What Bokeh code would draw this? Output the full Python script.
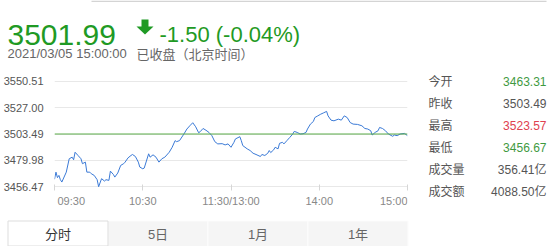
from bokeh.plotting import figure
from bokeh.layouts import column, row
from bokeh.models import Range1d, FixedTicker, PrintfTickFormatter, Span
from bokeh.core.properties import value
from bokeh.embed import file_html
from bokeh.resources import INLINE

# ---------------- data ----------------
minutes = [0, 1, 2, 3, 4, 5, 8, 10, 12, 13, 14, 16, 18, 19, 21, 22, 24, 25, 27, 29,
           30, 32, 34, 35, 37, 38, 40, 41, 43, 45, 47, 48, 50, 52, 53, 55, 57, 58, 60, 61,
           64, 65, 67, 69, 71, 73, 75, 78, 80, 82, 83, 85, 88, 90, 92, 94, 96, 98, 99, 101,
           103, 105, 107, 109, 111, 114, 116, 118, 120,
           122, 123, 126, 127, 128, 131, 133, 135, 137, 140, 141, 143, 145, 146, 147, 149,
           150, 152, 153, 155, 156, 158, 160, 162, 163, 165, 167, 169, 171, 172, 174, 176,
           177, 179, 181, 183, 185, 186, 188, 190, 193, 195, 197, 199, 201, 203, 206, 209,
           211, 213, 215, 216, 218, 220, 221, 223, 225, 227, 230, 231, 233, 235, 238, 240]
prices = [3463.31, 3469.6, 3464.7, 3466.7, 3462.9, 3460.8, 3469.6, 3481.5, 3482.9, 3480.6,
          3487.3, 3484.4, 3481.5, 3477.1, 3478.5, 3469.6, 3469.6, 3468.2, 3466.7, 3462.9,
          3456.67, 3463.8, 3461.7, 3462.9, 3462.3, 3470.5, 3467.6, 3465.2, 3468.8, 3475.6,
          3477.1, 3478.5, 3482.3, 3484.4, 3485.3, 3483.5, 3478.5, 3474.1, 3472.6, 3473.2,
          3485.9, 3482.9, 3485.0, 3482.9, 3478.5, 3481.5, 3482.9, 3487.3, 3491.7, 3497.6,
          3496.7, 3497.6, 3503.5, 3507.9, 3510.8, 3513.5, 3509.9, 3504.6, 3505.5, 3508.4,
          3506.8, 3504.9, 3502.0, 3496.7, 3494.7, 3494.9, 3493.8, 3494.7, 3491.7,
          3496.1, 3499.1, 3501.1, 3497.6, 3493.2, 3490.3, 3488.8, 3486.4, 3485.3, 3483.5,
          3485.3, 3484.4, 3486.4, 3488.8, 3487.0, 3489.4, 3491.7, 3490.3, 3495.2, 3496.1,
          3494.7, 3497.6, 3500.5, 3503.5, 3505.8, 3504.9, 3503.5, 3503.7, 3504.9, 3507.9,
          3512.3, 3514.6, 3518.1, 3519.6, 3521.1, 3522.3, 3523.57, 3519.6, 3515.8, 3515.2,
          3516.7, 3515.8, 3519.6, 3518.1, 3513.7, 3512.3, 3512.0, 3510.8, 3508.4, 3507.9,
          3506.4, 3502.6, 3504.9, 3506.4, 3509.3, 3508.4, 3506.4, 3503.5, 3501.4, 3502.6,
          3502.0, 3503.5, 3504.0, 3501.99]
prev_close = 3503.49
last_price_text = "3501.99"
change_text = "-1.50 (-0.04%)"
timestamp_text = "2021/03/05 15:00:00"
status_text = "已收盘（北京时间）"
y_ticks = [3456.47, 3479.98, 3503.49, 3527.00, 3550.51]
x_ticks = [0, 60, 120, 180, 240]
x_tick_labels = ["09:30", "10:30", "11:30/13:00", "14:00", "15:00"]
stat_names = ["今开", "昨收", "最高", "最低", "成交量", "成交额"]
stat_values = ["3463.31", "3503.49", "3523.57", "3456.67", "356.41亿", "4088.50亿"]
stat_colors = ["#3f9a3f", "#555555", "#e0414f", "#3f9a3f", "#555555", "#555555"]
tab_labels = ["分时", "5日", "1月", "1年"]

# ---------------- layout constants (pixels) ----------------
W, H = 558, 246
HEADER_H = 66
CHART_W, CHART_H = 420, 128
FL, FR = 52, 13            # chart frame borders left/right
FT, FB = 14, 7             # chart frame borders top/bottom
XLAB_H = 18
TABS_H = H - HEADER_H - CHART_H - XLAB_H
FONT = "Liberation Sans, Noto Sans CJK SC"
CJK = "Noto Sans CJK SC"
GREEN = "#1f9a24"


def blank(width, height):
    f = figure(width=width, height=height, output_backend="svg", toolbar_location=None,
               x_range=Range1d(0, width), y_range=Range1d(height, 0),
               x_axis_location=None, y_axis_location=None, min_border=0)
    f.grid.visible = False
    f.outline_line_color = None
    f.background_fill_color = "white"
    f.border_fill_color = "white"
    return f


# ---------------- header ----------------
hdr = blank(W, HEADER_H)
hdr.quad(left=[91], right=[546], top=[0], bottom=[1.5], fill_color="#d4d4d4", line_color=None)
hdr.text(x=[7], y=[34], text=[last_price_text], text_align="left", text_baseline="alphabetic",
         text_font=value(FONT), text_font_size=value("30px"), text_color=GREEN)
arrow_x = [141, 148, 148, 153, 144.5, 136, 141]
arrow_y = [19, 19, 26, 26, 34, 26, 26]
hdr.patch(arrow_x, arrow_y, fill_color=GREEN, line_color=None)
hdr.text(x=[159], y=[34], text=[change_text], text_align="left", text_baseline="alphabetic",
         text_font=value(FONT), text_font_size=value("22px"), text_color=GREEN)
hdr.text(x=[7], y=[52.5], text=[timestamp_text], text_align="left", text_baseline="middle",
         text_font=value(FONT), text_font_size=value("13px"), text_color="#666666")
hdr.text(x=[136], y=[52.5], text=[status_text], text_align="left", text_baseline="middle",
         text_font=value(CJK), text_font_size=value("13px"), text_color="#666666")

# ---------------- chart ----------------
p = figure(width=CHART_W, height=CHART_H, output_backend="svg", toolbar_location=None,
           x_range=Range1d(x_ticks[0], x_ticks[-1]),
           y_range=Range1d(y_ticks[0] - 0.5, y_ticks[-1] + 0.5),
           min_border_left=FL, min_border_right=FR,
           min_border_top=FT, min_border_bottom=FB)
p.outline_line_color = None
p.background_fill_color = "white"
p.border_fill_color = "white"

p.yaxis.ticker = FixedTicker(ticks=y_ticks)
p.yaxis.formatter = PrintfTickFormatter(format="%.2f")
p.yaxis.axis_line_color = None
p.yaxis.major_tick_line_color = None
p.yaxis.minor_tick_line_color = None
p.yaxis.major_label_text_font = FONT
p.yaxis.major_label_text_font_size = "11px"
p.yaxis.major_label_text_color = "#555555"
p.yaxis.major_label_standoff = 5

p.xaxis.ticker = FixedTicker(ticks=x_ticks)
p.xaxis.major_label_overrides = {t: "" for t in x_ticks}
p.xaxis.major_label_text_font_size = "0px"
p.xaxis.major_label_standoff = 0
p.xaxis.axis_line_color = None
p.xaxis.major_tick_in = 3
p.xaxis.major_tick_out = 3
p.xaxis.major_tick_line_color = "#d6d6d6"
p.xaxis.minor_tick_line_color = None

p.xgrid.grid_line_color = None
p.ygrid.grid_line_color = "#e8e8e8"

p.add_layout(Span(location=prev_close, dimension="width", line_color="#5aac48", line_width=1))
p.line(minutes, prices, line_color="#3b7ad6", line_width=1)

# ---------------- x tick labels (strip sharing the chart's x range) ----------------
xl = figure(width=CHART_W, height=XLAB_H, output_backend="svg", toolbar_location=None,
            x_range=p.x_range, y_range=Range1d(XLAB_H, 0),
            x_axis_location=None, y_axis_location=None,
            min_border_left=FL, min_border_right=FR, min_border_top=0, min_border_bottom=0)
xl.grid.visible = False
xl.outline_line_color = None
xl.border_fill_color = "white"
lab_y = 6.5
common = dict(text_baseline="middle", text_font=value(FONT), text_font_size=value("11px"),
              text_color="#888888")
xl.text(x=x_ticks[:1], y=[lab_y], text=x_tick_labels[:1], text_align="left", x_offset=3, **common)
xl.text(x=x_ticks[1:-1], y=[lab_y] * 3, text=x_tick_labels[1:-1], text_align="center", **common)
xl.text(x=x_ticks[-1:], y=[lab_y], text=x_tick_labels[-1:], text_align="right", **common)

# ---------------- stats table ----------------
st = blank(W - CHART_W, CHART_H + XLAB_H)
rows_y = [15 + 22 * i for i in range(len(stat_names))]
st.text(x=[8] * len(stat_names), y=rows_y, text=stat_names, text_align="left",
        text_baseline="middle", text_font=value(FONT), text_font_size=value("12px"),
        text_color="#555555")
st.text(x=[126] * len(stat_values), y=rows_y, text=stat_values, text_align="right",
        text_baseline="middle", text_font=value(FONT), text_font_size=value("12px"),
        text_color=stat_colors)

# ---------------- tabs ----------------
tb = blank(W, TABS_H)
n = len(tab_labels)
lefts = [7.5 + 100 * i for i in range(n)]
rights = [l + 100 for l in lefts]
tb.quad(left=lefts[1:], right=rights[1:], top=[8.5] * (n - 1), bottom=[TABS_H] * (n - 1),
        fill_color="#f5f5f5", line_color="#fcfcfc")
tb.quad(left=lefts[:1], right=rights[:1], top=[8.5], bottom=[TABS_H - 0.5],
        fill_color="white", line_color="#dddddd")
tb.text(x=[l + 50 for l in lefts], y=[22] * n, text=tab_labels, text_align="center",
        text_baseline="middle", text_font=value(FONT), text_font_size=value("13px"),
        text_color=["#333333"] + ["#666666"] * (n - 1))

layout = column(hdr, row(column(p, xl), st), tb)
open("out.html", "w").write(file_html(layout, INLINE))
